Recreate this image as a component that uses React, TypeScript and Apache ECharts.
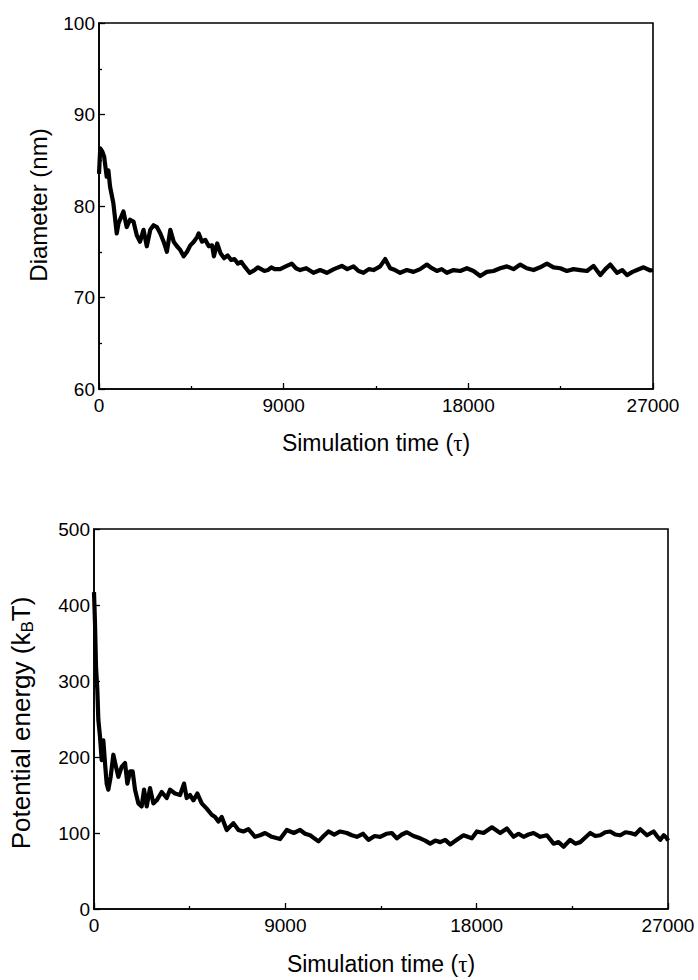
import React, { useEffect, useRef } from "react";
import * as echarts from "echarts";

// ---- Top panel: Diameter (nm) vs simulation time ----
const tTop = [
  0, 60, 150, 250, 375, 456, 540, 700, 865, 950, 1190, 1350, 1515, 1680, 1840, 2000,
  2170, 2330, 2500, 2660, 2820, 2990, 3150, 3310, 3475, 3640, 3800, 3960, 4125, 4290,
  4450, 4620, 4780, 4860, 5020, 5180, 5350, 5510, 5600, 5760, 5930, 6100, 6270, 6440, 6600, 6770,
  6930, 7090, 7340, 7580, 7740, 7900, 8060, 8230, 8400, 8560, 8826, 9100, 9396, 9600, 9802, 10100, 10452,
  10780, 11102, 11450, 11833, 12100, 12403, 12650, 12890, 13150, 13377, 13703, 13946, 14190, 14430, 14678,
  15000, 15328, 15650, 15978, 16220, 16467, 16700, 16954, 17280, 17604, 17930, 18253, 18579, 18900,
  19228, 19550, 19880, 20200, 20530, 20850, 21178, 21500, 21830, 22150, 22480, 22800, 23129, 23450,
  23782, 24104, 24430, 24680, 24919, 25244, 25500, 25733, 26000, 26220, 26543, 26869, 27000,
];
const diameter = [
  83.5, 86.3, 86.0, 85.4, 83.2, 83.9, 82.1, 80.3, 77.0, 78.1, 79.4, 77.7, 78.5, 78.3, 76.8, 76.1,
  77.4, 75.6, 77.4, 77.9, 77.7, 77.0, 76.1, 75.0, 77.4, 76.1, 75.6, 75.2, 74.5, 75.0,
  75.7, 76.1, 76.6, 77.0, 76.1, 76.3, 75.6, 75.7, 74.5, 75.9, 74.8, 74.3, 74.6, 74.1, 74.2, 73.7,
  73.9, 73.4, 72.7, 73.0, 73.3, 73.1, 72.9, 73.0, 73.3, 73.1, 73.1, 73.4, 73.7, 73.2, 73.0, 73.2, 72.7,
  73.0, 72.7, 73.1, 73.45, 73.1, 73.4, 72.9, 72.7, 73.1, 73.0, 73.4, 74.2, 73.2, 73.0, 72.7,
  73.0, 72.8, 73.1, 73.6, 73.2, 72.9, 73.1, 72.7, 73.0, 72.9, 73.2, 72.9, 72.35, 72.8,
  72.9, 73.2, 73.4, 73.1, 73.6, 73.2, 73.0, 73.3, 73.7, 73.3, 73.2, 72.9, 73.1, 73.0,
  72.9, 73.45, 72.45, 73.1, 73.6, 72.7, 73.0, 72.45, 72.8, 73.0, 73.3, 72.95, 73.0,
];

// ---- Bottom panel: Potential energy (kBT) vs simulation time ----
const tBot = [
  0, 47, 94, 157, 204, 282, 361, 439, 518, 596, 674, 784, 910, 1035, 1145, 1302, 1459,
  1569, 1694, 1820, 1930, 2086, 2243, 2353, 2479, 2636, 2792, 2949, 3185, 3420, 3577,
  3812, 4047, 4236, 4361, 4518, 4675, 4863, 5067, 5303, 5538, 5695, 5852, 6009, 6244,
  6557, 6793, 7028, 7263, 7577, 7812, 8047, 8361, 8754, 9068, 9400, 9695, 9930, 10166, 10558,
  10800, 11028, 11300, 11578, 11892, 12130, 12362, 12650, 12911, 13200, 13460, 13750, 14009, 14245,
  14480, 14715, 15030, 15343, 15580, 15813, 16050, 16284, 16520, 16754, 17068, 17382, 17774, 18010,
  18324, 18716, 19108, 19422, 19735, 19970, 20206, 20440, 20676, 20990, 21304, 21618, 21850, 22088,
  22402, 22640, 22872, 23110, 23343, 23580, 23813, 24050, 24284, 24520, 24755, 25000, 25226, 25460,
  25696, 26010, 26324, 26480, 26638, 26800, 26952, 27000,
];
const energy = [
  417, 376, 319, 288, 249, 227, 196, 222, 192, 165, 157, 174, 203, 187, 174, 187, 192,
  165, 181, 181, 157, 139, 135, 157, 135, 159, 139, 143, 154, 146, 157,
  152, 150, 165, 146, 150, 143, 152, 139, 132, 124, 121, 115, 121, 104,
  113, 104, 102, 105, 95, 97, 100, 95, 92, 104, 100, 104, 99, 97, 89,
  96, 102, 98, 102, 100, 97, 95, 99, 91, 96, 95, 99, 100, 93,
  98, 101, 96, 93, 90, 86, 90, 88, 91, 85, 91, 97, 93, 102,
  100, 107.5, 100, 106, 95, 99, 95, 98, 100, 95, 97, 86, 88, 82,
  91, 86, 88, 94, 100, 96, 97, 101, 102, 98, 97, 101, 100, 98,
  105, 97, 102, 96, 91, 97, 93, 90,
];

const xTicks = { min: 0, max: 27000, interval: 9000 };

const FONT = "'Liberation Sans', Arial, sans-serif";
const SERIF = "'Liberation Serif', 'Times New Roman', serif";

export default function App() {
  const ref = useRef<HTMLDivElement>(null);

  useEffect(() => {
    if (!ref.current) return;
    const chart = echarts.init(ref.current, undefined, { renderer: "svg" });

    const axisLine = { show: true, lineStyle: { color: "#000", width: 1.6 } };
    const tick = { show: true, inside: true, length: 6, lineStyle: { color: "#000", width: 1.3 } };
    const minor = { show: true, splitNumber: 2, length: 3, lineStyle: { color: "#000", width: 1.3 } };
    const label = (margin: number) => ({
      color: "#000",
      fontSize: 19,
      fontFamily: FONT,
      margin,
      formatter: (v: number) => String(v),
    });
    const xNameStyle = {
      color: "#000",
      fontSize: 23,
      fontFamily: FONT,
      rich: {
        tau: { fontFamily: SERIF, fontSize: 23, color: "#000", lineHeight: 26 },
        n: { fontFamily: FONT, fontSize: 23, color: "#000", lineHeight: 26 },
      },
    };

    chart.setOption({
      animation: false,
      backgroundColor: "#fff",
      grid: [
        { left: 99, top: 23, width: 554, height: 366, show: true, borderColor: "#000", borderWidth: 1.6, outerBoundsMode: "none", containLabel: false },
        { left: 94, top: 529, width: 574, height: 380, show: true, borderColor: "#000", borderWidth: 1.6, outerBoundsMode: "none", containLabel: false },
      ],
      xAxis: [
        {
          type: "value", gridIndex: 0, ...xTicks,
          axisLine, axisTick: tick, minorTick: minor, splitLine: { show: false }, minorSplitLine: { show: false },
          axisLabel: label(7),
          name: "{n|Simulation time (}{tau|τ}{n|)}", nameLocation: "middle", nameGap: 41, nameTextStyle: xNameStyle,
        },
        {
          type: "value", gridIndex: 1, ...xTicks,
          axisLine, axisTick: tick, minorTick: minor, splitLine: { show: false }, minorSplitLine: { show: false },
          axisLabel: label(7),
          name: "{n|Simulation time (}{tau|τ}{n|)}", nameLocation: "middle", nameGap: 42, nameTextStyle: xNameStyle,
        },
      ],
      yAxis: [
        {
          type: "value", gridIndex: 0, min: 60, max: 100, interval: 10,
          axisLine, axisTick: tick, minorTick: minor, splitLine: { show: false }, minorSplitLine: { show: false },
          axisLabel: label(4),
        },
        {
          type: "value", gridIndex: 1, min: 0, max: 500, interval: 100,
          axisLine, axisTick: tick, minorTick: { show: false }, splitLine: { show: false },
          axisLabel: label(4),
        },
      ],
      graphic: [
        {
          type: "text",
          x: 38,
          y: 205,
          rotation: Math.PI / 2,
          style: {
            text: "Diameter (nm)",
            fill: "#000",
            fontSize: 24,
            fontFamily: FONT,
            align: "center",
            verticalAlign: "middle",
          },
        },
        {
          type: "text",
          x: 21,
          y: 723,
          rotation: Math.PI / 2,
          style: {
            text: "{n|Potential energy (k}{sub|B}{n|T)}",
            fill: "#000",
            fontSize: 26,
            fontFamily: FONT,
            align: "center",
            verticalAlign: "middle",
            rich: {
              n: { fontSize: 26, fontFamily: FONT, fill: "#000", lineHeight: 30 },
              sub: { fontSize: 17, fontFamily: FONT, fill: "#000", lineHeight: 30, verticalAlign: "bottom" },
            },
          },
        },
      ],
      series: [
        {
          type: "line", xAxisIndex: 0, yAxisIndex: 0, showSymbol: false, symbol: "none",
          lineStyle: { color: "#000", width: 4.2, join: "round" },
          data: tTop.map((t, i) => [t, diameter[i]]),
        },
        {
          type: "line", xAxisIndex: 1, yAxisIndex: 1, showSymbol: false, symbol: "none",
          lineStyle: { color: "#000", width: 4.2, join: "round" },
          data: tBot.map((t, i) => [t, energy[i]]),
        },
      ],
    });

    return () => chart.dispose();
  }, []);

  return (
    <div
      ref={ref}
      style={{ position: "absolute", left: 0, top: 0, width: 698, height: 980, background: "#fff" }}
    />
  );
}
